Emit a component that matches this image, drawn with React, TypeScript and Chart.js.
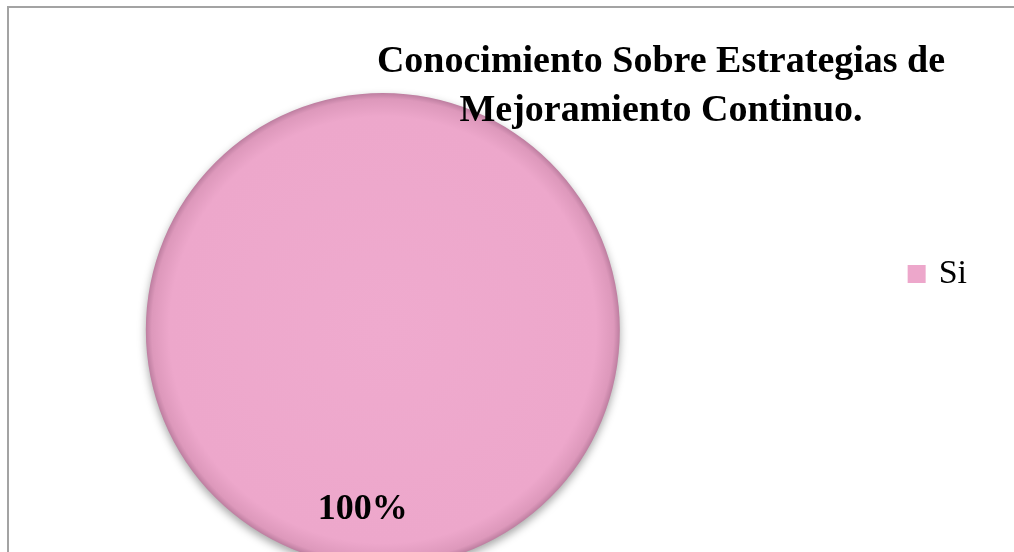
import React, { useEffect, useRef } from 'react';
import { Chart, registerables } from 'chart.js';

Chart.register(...registerables);

const titleLines = ['Conocimiento Sobre Estrategias de', 'Mejoramiento Continuo.'];
const categories = ['Si'];
const values = [100];
const sliceColors = ['#eda7cb'];
const rimColors = ['#bd7ea0'];

const FONT = "'Liberation Serif', 'Times New Roman', Times, serif";

export default function App() {
  const ref = useRef<HTMLCanvasElement>(null);

  useEffect(() => {
    const canvas = ref.current;
    if (!canvas) return;

    const shadowPlugin = {
      id: 'pieShadow',
      beforeDatasetsDraw(chart: any) {
        const ctx = chart.ctx;
        ctx.save();
        ctx.shadowColor = 'rgba(0,0,0,0.35)';
        ctx.shadowBlur = 8;
        ctx.shadowOffsetY = 4;
      },
      afterDatasetsDraw(chart: any) {
        chart.ctx.restore();
      },
    };

    const labelPlugin = {
      id: 'pctLabel',
      afterDatasetsDraw(chart: any) {
        const ctx = chart.ctx;
        const meta = chart.getDatasetMeta(0);
        const total = values.reduce((a, b) => a + b, 0);
        meta.data.forEach((arc: any, i: number) => {
          const { x, y, outerRadius, startAngle, endAngle } = arc.getProps(
            ['x', 'y', 'outerRadius', 'startAngle', 'endAngle'],
            true
          );
          const mid = (startAngle + endAngle) / 2;
          const r = outerRadius * 0.76;
          const pct = Math.round((values[i] / total) * 100) + '%';
          ctx.save();
          ctx.font = `bold 36px ${FONT}`;
          ctx.fillStyle = '#000';
          ctx.textAlign = 'center';
          ctx.textBaseline = 'middle';
          ctx.fillText(pct, x + Math.cos(mid) * r - 20, y + Math.sin(mid) * r);
          ctx.restore();
        });
      },
    };

    const titlePlugin = {
      id: 'overlayTitle',
      afterDraw(chart: any) {
        const ctx = chart.ctx;
        ctx.save();
        ctx.font = `bold 38px ${FONT}`;
        ctx.fillStyle = '#000';
        ctx.textAlign = 'center';
        ctx.textBaseline = 'alphabetic';
        titleLines.forEach((line, i) => ctx.fillText(line, 652, 64 + i * 49));
        ctx.restore();
      },
    };

    const chart = new Chart(canvas, {
      type: 'pie',
      data: {
        labels: categories,
        datasets: [
          {
            data: values,
            borderWidth: 0,
            backgroundColor: (c: any) => {
              const ch = c.chart;
              const area = ch.chartArea;
              const i = c.dataIndex ?? 0;
              if (!area) return sliceColors[i];
              const cx = (area.left + area.right) / 2;
              const cy = (area.top + area.bottom) / 2;
              const r = Math.min(area.right - area.left, area.bottom - area.top) / 2;
              const g = ch.ctx.createRadialGradient(cx, cy, 0, cx, cy, r);
              g.addColorStop(0, '#efaace');
              g.addColorStop(0.9, sliceColors[i]);
              g.addColorStop(0.975, '#dd98bb');
              g.addColorStop(1, rimColors[i]);
              return g;
            },
          },
        ],
      },
      options: {
        responsive: false,
        animation: false,
        layout: { padding: { left: 121, right: 37, top: 85, bottom: 21 } },
        plugins: {
          title: { display: false },
          tooltip: { enabled: false },
          legend: {
            position: 'right',
            align: 'end',
            labels: {
              usePointStyle: true,
              boxWidth: 10,
              boxHeight: 18,
              padding: 276,
              color: '#000',
              font: { family: FONT, size: 34 },
              generateLabels: (ch: any) =>
                ch.data.labels.map((l: string, i: number) => ({
                  text: l,
                  fillStyle: sliceColors[i],
                  strokeStyle: sliceColors[i],
                  lineWidth: 0,
                  pointStyle: 'rect',
                  hidden: false,
                  index: i,
                })),
            },
          },
        },
      },
      plugins: [shadowPlugin, labelPlugin, titlePlugin],
    } as any);

    return () => chart.destroy();
  }, []);

  return (
    <div
      style={{
        position: 'absolute',
        left: 7,
        top: 6,
        width: 1007,
        height: 546,
        borderTop: '2px solid #a3a3a3',
        borderLeft: '2px solid #a3a3a3',
        boxSizing: 'border-box',
        overflow: 'hidden',
        background: '#fff',
      }}
    >
      <canvas ref={ref} width={1005} height={580} style={{ display: 'block' }} />
    </div>
  );
}
